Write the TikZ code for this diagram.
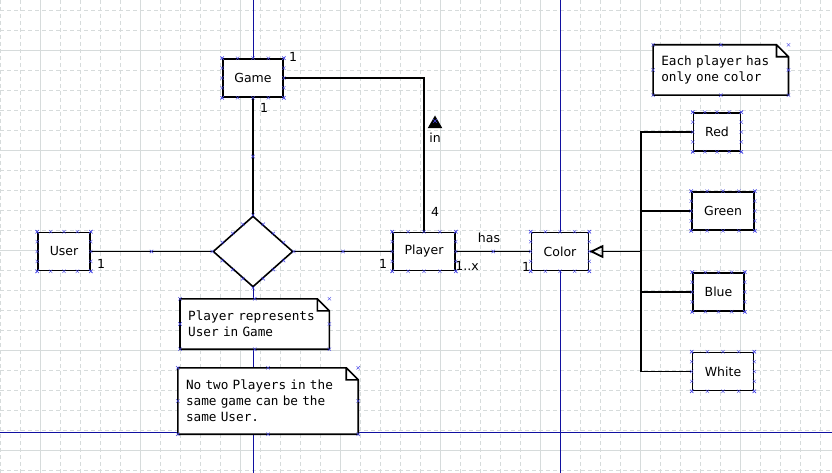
\documentclass[tikz,border=0pt]{standalone}
\usepackage{fontspec}
\setmainfont{DejaVu Sans}
\newfontfamily\notefont{DejaVu Sans Mono}
\usetikzlibrary{shapes.geometric,shapes.misc,calc,arrows.meta}
\definecolor{gridcol}{RGB}{214,219,219}
\definecolor{guide}{RGB}{16,16,160}
\definecolor{cptcol}{RGB}{70,70,230}
\tikzset{
  entity/.style={draw, fill=white, line width=1.6pt, minimum height=38pt, inner sep=0pt, font=\fontsize{12.5}{15}\selectfont},
  relation/.style={diamond, draw, fill=white, line width=1.6pt, minimum width=80pt, minimum height=71pt, inner sep=0pt},
  note/.style={fill=white, inner xsep=8pt, inner ysep=0pt, align=left, font=\notefont\fontsize{12.7}{16}\selectfont},
  conn/.style={line width=1.5pt},
  mult/.style={font=\fontsize{12.5}{15}\selectfont, inner sep=0pt},
  cpt/.style={cross out, draw=cptcol, line width=0.4pt, minimum size=3pt, inner sep=0pt},
}
\begin{document}
\begin{tikzpicture}[x=1pt,y=-1pt]
\useasboundingbox (0,0) rectangle (832,473);
\fill[white] (0,0) rectangle (832,473);
% grid
\foreach \x in {0,20,...,820}
\draw[gridcol, line width=0.8pt, dash pattern=on 4pt off 3pt] (\x,0) -- (\x,473);
\foreach \y in {10,30,...,470}
\draw[gridcol, line width=0.8pt, dash pattern=on 4pt off 3pt] (0,\y) -- (832,\y);
\foreach \x in {40,140,...,740}
\draw[gridcol, line width=0.8pt] (\x,0) -- (\x,473);
\foreach \y in {50,150,...,450}
\draw[gridcol, line width=0.8pt] (0,\y) -- (832,\y);
\draw[guide, line width=1pt] (253,0) -- (253,473) (560,0) -- (560,473) (0,432) -- (832,432);
% entities
\node[entity, minimum width=60pt] (game) at (253,78) {Game};
\node[entity, minimum width=52pt] (user) at (64,251.5) {User};
\node[relation] (rep) at (253,251.5) {};
\node[entity, minimum width=62pt] (player) at (424,251.5) {Player};
\node[entity, minimum width=57pt] (color) at (560,251.5) {Color};
\node[entity, minimum width=47pt] (cred) at (717,132) {Red};
\node[entity, minimum width=62pt] (cgreen) at (723,211) {Green};
\node[entity, minimum width=51pt] (cblue) at (718.5,292) {Blue};
\node[entity, minimum width=61pt] (cwhite) at (723,371.5) {White};
% notes
\node[note, text width=119pt, minimum height=50pt] (ncolor) at (720.8,70) {Each player has\\only one color};
\node[note, text width=133pt, minimum height=50pt] (nrep) at (254.7,324) {Player represents\\User in Game};
\node[note, text width=164pt, minimum height=66pt] (nuser) at (268,401) {No two Players in the\\same game can be the\\same User.};
\foreach \nm in {ncolor,nrep,nuser}
\draw[line width=1.6pt] (\nm.north west) -- ([xshift=-12pt]\nm.north east) -- ([yshift=-12pt]\nm.north east) -- (\nm.south east) -- (\nm.south west) -- cycle
  ([xshift=-12pt]\nm.north east) |- ([yshift=-12pt]\nm.north east);
% connectors
\draw[conn] (game.east) -| (player.north);
\draw[conn] (game.south) -- (rep.north);
\draw[conn] (user.east) -- (rep.west);
\draw[conn] (rep.east) -- (player.west);
\draw[conn] (player.east) -- (color.west);
\coordinate (hub) at (641,251.5);
\draw[conn, -{Triangle[open, length=14pt, width=13pt, line width=1.8pt]}] (hub) -- (color.east);
\draw[conn] (cred.west) -| (hub) |- (cwhite.west);
\draw[conn] (cgreen.west) -- (cgreen.west -| hub);
\draw[conn] (cblue.west) -- (cblue.west -| hub);
% labels
\node[mult] at (293,57) {1};
\node[mult] at (264,108) {1};
\node[regular polygon, regular polygon sides=3, fill=black, minimum size=17pt, inner sep=0pt, outer sep=0pt] (dir) at (435,124) {};
\node[mult] (inlbl) at (435,138) {in};
\node[mult] at (435,212) {4};
\node[mult] at (101,264) {1};
\node[mult] at (383,264) {1};
\node[mult] (haslbl) at (489,238) {has};
\node[mult] at (467,266) {1..x};
\node[mult] at (526,267) {1};
% connection points
\foreach \nm in {game,user,player,color,cred,cgreen,cblue,cwhite}
\foreach \f in {0,0.25,0.5,0.75,1} {
  \node[cpt] at ($(\nm.north west)!\f!(\nm.north east)$) {};
  \node[cpt] at ($(\nm.south west)!\f!(\nm.south east)$) {};
  \node[cpt] at ($(\nm.north west)!\f!(\nm.south west)$) {};
  \node[cpt] at ($(\nm.north east)!\f!(\nm.south east)$) {};
}
\foreach \f in {0,0.25,0.5,0.75} {
  \node[cpt] at ($(rep.north)!\f!(rep.east)$) {};
  \node[cpt] at ($(rep.east)!\f!(rep.south)$) {};
  \node[cpt] at ($(rep.south)!\f!(rep.west)$) {};
  \node[cpt] at ($(rep.west)!\f!(rep.north)$) {};
}
\foreach \nm in {ncolor,nrep,nuser}
\foreach \a in {north west,north,north east,west,east,south west,south,south east}
\node[cpt] at (\nm.\a) {};
\node[cpt] at ($(user.east)!0.5!(rep.west)$) {};
\node[cpt] at ($(game.south)!0.5!(rep.north)$) {};
\node[cpt] at ($(rep.east)!0.5!(player.west)$) {};
\node[cpt] at ($(player.east)!0.5!(color.west)$) {};
\node[cpt] at (435,121) {};
\end{tikzpicture}
\end{document}
